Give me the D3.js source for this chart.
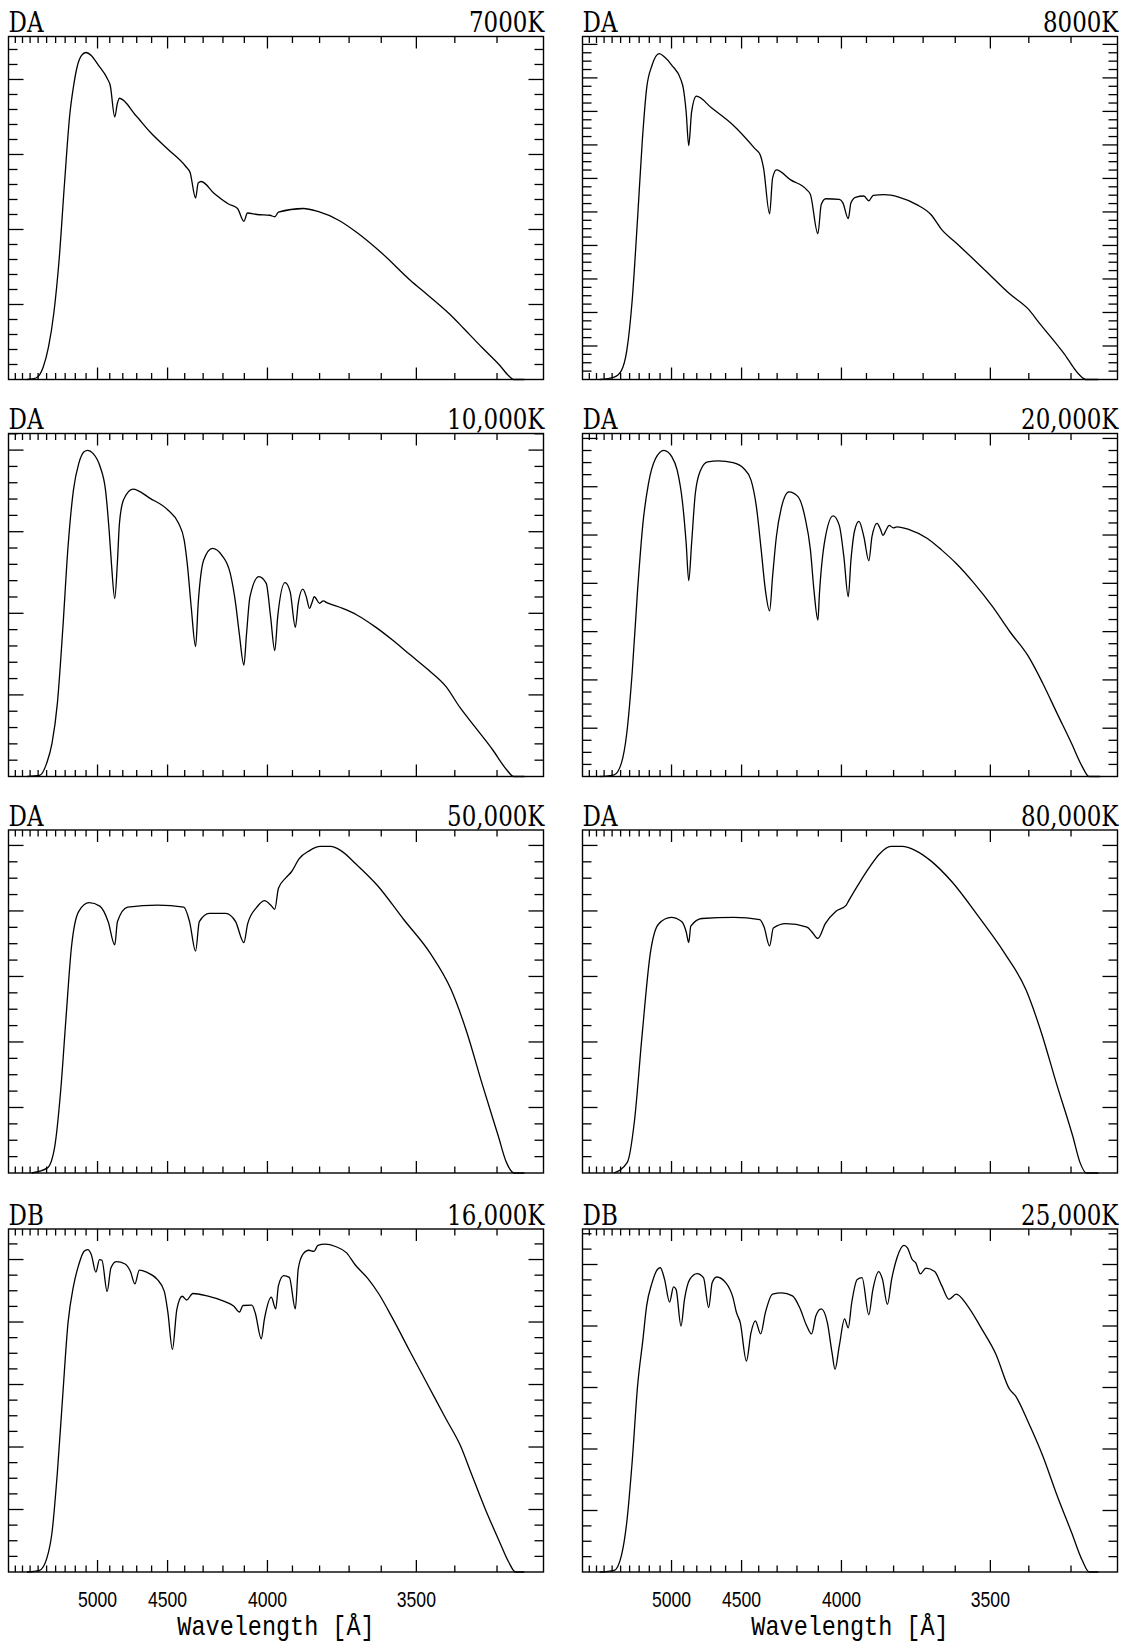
<!DOCTYPE html>
<html>
<head>
<meta charset="utf-8">
<script src="https://cdn.jsdelivr.net/npm/d3@7"></script>
<style>
  html, body { margin: 0; padding: 0; background: #fff; }
  svg { display: block; }
</style>
</head>
<body>
<svg id="chart" width="1125" height="1643"></svg>
<script>
// ---- Panel metadata ----
const spectralTypes = ["DA", "DA", "DA", "DA", "DA", "DA", "DB", "DB"];
const temperatures  = ["7000K", "8000K", "10,000K", "20,000K", "50,000K", "80,000K", "16,000K", "25,000K"];

// Wavelength axis (Angstrom); the dispersion axis is non-linear (~ lambda^-2.175)
const waveDomain = [6000, 3200];
const waveLabels = [5000, 4500, 4000, 3500];
const waveMinorStep = 100;

// Flux axis per panel: top of axis, major tick step, minor ticks per major
const fluxTop   = [4.573, 1, 1, 1, 1, 1, 1, 1];
const fluxMajor = [1, 0.0977, 0.2379, 0.1408, 0.191, 0.191, 0.1822, 0.1793];
const fluxMinorPerMajor = [5, 4, 5, 4, 4, 4, 4, 4];

// ---- Spectra: [wavelength (A), flux] ----
const specDA7000 = [[5740,0],[5626,0.02],[5541,0.16],[5479,0.43],[5420,0.88],[5363,1.59],[5307,2.61],[5253,3.54],[5218,3.90],[5184,4.16],[5141,4.32],[5101,4.36],[5054,4.32],[4993,4.19],[4919,4.01],[4896,3.92],[4861,3.50],[4841,3.68],[4825,3.75],[4706,3.52],[4610,3.30],[4498,3.07],[4394,2.84],[4370,2.76],[4340,2.42],[4326,2.62],[4310,2.64],[4243,2.48],[4173,2.34],[4131,2.28],[4102,2.11],[4086,2.22],[4044,2.20],[3990,2.19],[3970,2.17],[3955,2.23],[3859,2.28],[3806,2.24],[3733,2.12],[3675,1.96],[3597,1.68],[3516,1.32],[3468,1.12],[3403,0.82],[3378,0.68],[3335,0.43],[3294,0.19],[3274,0.05],[3263,0],[3240,0]];

const specDA8000 = [[5757,0],[5575,0.007],[5491,0.026],[5431,0.084],[5373,0.229],[5316,0.471],[5269,0.693],[5226,0.848],[5174,0.916],[5108,0.95],[5060,0.94],[4997,0.916],[4924,0.875],[4903,0.848],[4881,0.78],[4861,0.682],[4839,0.78],[4803,0.826],[4695,0.792],[4553,0.742],[4423,0.674],[4392,0.655],[4373,0.616],[4340,0.483],[4324,0.587],[4304,0.611],[4231,0.582],[4153,0.553],[4136,0.539],[4102,0.425],[4087,0.51],[4067,0.527],[4009,0.525],[3994,0.515],[3972,0.469],[3961,0.515],[3943,0.531],[3910,0.535],[3891,0.521],[3874,0.537],[3834,0.539],[3782,0.532],[3721,0.51],[3675,0.481],[3641,0.437],[3597,0.398],[3514,0.318],[3448,0.249],[3401,0.205],[3375,0.166],[3315,0.074],[3283,0.016],[3267,0],[3240,0]];

const specDA10000 = [[5740,0],[5583,0.003],[5499,0.039],[5439,0.097],[5381,0.214],[5325,0.427],[5271,0.67],[5218,0.835],[5167,0.913],[5118,0.947],[5086,0.951],[5039,0.942],[4978,0.903],[4934,0.835],[4905,0.718],[4885,0.612],[4861,0.519],[4841,0.621],[4825,0.738],[4795,0.806],[4727,0.838],[4610,0.811],[4498,0.777],[4435,0.738],[4403,0.689],[4384,0.612],[4364,0.495],[4340,0.379],[4326,0.505],[4297,0.631],[4252,0.665],[4207,0.646],[4165,0.592],[4140,0.505],[4123,0.417],[4102,0.325],[4090,0.417],[4075,0.524],[4036,0.583],[4005,0.563],[3987,0.466],[3970,0.367],[3958,0.466],[3929,0.565],[3909,0.539],[3889,0.435],[3878,0.505],[3861,0.546],[3848,0.524],[3836,0.49],[3828,0.505],[3819,0.524],[3800,0.505],[3787,0.512],[3775,0.507],[3721,0.49],[3675,0.471],[3619,0.437],[3567,0.398],[3516,0.354],[3468,0.311],[3422,0.262],[3386,0.199],[3352,0.146],[3310,0.078],[3278,0.019],[3263,0],[3240,0]];

const specDA20000 = [[5757,0],[5575,0.005],[5491,0.039],[5431,0.126],[5373,0.301],[5316,0.544],[5262,0.738],[5208,0.854],[5141,0.927],[5066,0.951],[4997,0.932],[4953,0.893],[4909,0.796],[4881,0.68],[4861,0.571],[4839,0.68],[4811,0.825],[4772,0.893],[4721,0.917],[4647,0.92],[4553,0.915],[4487,0.898],[4444,0.864],[4413,0.786],[4386,0.66],[4363,0.544],[4340,0.483],[4324,0.583],[4304,0.699],[4277,0.786],[4240,0.83],[4195,0.816],[4162,0.757],[4136,0.66],[4120,0.544],[4102,0.456],[4095,0.534],[4071,0.689],[4035,0.76],[4009,0.732],[3990,0.641],[3972,0.524],[3961,0.631],[3946,0.718],[3929,0.744],[3910,0.699],[3891,0.629],[3879,0.699],[3860,0.738],[3847,0.72],[3838,0.703],[3827,0.718],[3816,0.732],[3801,0.725],[3788,0.728],[3746,0.72],[3686,0.694],[3641,0.66],[3597,0.621],[3545,0.563],[3494,0.495],[3448,0.422],[3401,0.35],[3366,0.272],[3332,0.184],[3299,0.097],[3275,0.029],[3260,0],[3236,0]];

const specDA50000 = [[5680,0],[5490,0.015],[5410,0.076],[5345,0.244],[5290,0.458],[5238,0.656],[5167,0.763],[5072,0.788],[4981,0.778],[4913,0.733],[4861,0.665],[4840,0.733],[4764,0.775],[4560,0.781],[4405,0.775],[4373,0.733],[4340,0.647],[4320,0.733],[4268,0.757],[4187,0.757],[4140,0.733],[4102,0.672],[4085,0.727],[4045,0.775],[4013,0.794],[3985,0.78],[3970,0.769],[3955,0.83],[3925,0.861],[3903,0.879],[3875,0.916],[3836,0.94],[3798,0.952],[3762,0.952],[3727,0.94],[3677,0.9],[3612,0.839],[3535,0.739],[3463,0.641],[3409,0.534],[3371,0.412],[3334,0.259],[3297,0.107],[3279,0.031],[3262,0],[3240,0]];

const specDA80000 = [[5580,0],[5425,0.031],[5348,0.153],[5272,0.397],[5190,0.641],[5113,0.726],[5003,0.745],[4917,0.733],[4880,0.702],[4861,0.672],[4845,0.72],[4762,0.742],[4548,0.745],[4394,0.739],[4370,0.717],[4340,0.662],[4320,0.714],[4256,0.727],[4152,0.717],[4128,0.702],[4102,0.684],[4069,0.727],[4023,0.763],[3980,0.781],[3970,0.794],[3925,0.849],[3889,0.891],[3850,0.931],[3810,0.952],[3770,0.952],[3725,0.94],[3675,0.91],[3610,0.849],[3533,0.748],[3462,0.641],[3407,0.534],[3370,0.412],[3333,0.259],[3296,0.107],[3280,0.031],[3266,0],[3240,0]];

const specDB16000 = [[5740,0],[5583,0.005],[5499,0.039],[5439,0.116],[5381,0.291],[5325,0.514],[5271,0.727],[5218,0.833],[5167,0.896],[5118,0.935],[5086,0.94],[5054,0.926],[5014,0.874],[4984,0.911],[4963,0.909],[4921,0.818],[4891,0.886],[4850,0.905],[4783,0.898],[4744,0.876],[4713,0.84],[4682,0.88],[4633,0.874],[4564,0.853],[4520,0.818],[4498,0.756],[4471,0.649],[4445,0.766],[4414,0.804],[4389,0.793],[4355,0.812],[4279,0.805],[4190,0.788],[4148,0.775],[4122,0.758],[4106,0.777],[4067,0.778],[4052,0.756],[4026,0.68],[4013,0.736],[3984,0.801],[3966,0.767],[3955,0.835],[3934,0.864],[3912,0.859],[3889,0.767],[3878,0.884],[3859,0.928],[3839,0.938],[3820,0.935],[3806,0.952],[3781,0.956],[3745,0.949],[3709,0.931],[3680,0.895],[3641,0.856],[3608,0.812],[3567,0.74],[3516,0.64],[3468,0.543],[3422,0.446],[3386,0.368],[3361,0.291],[3327,0.184],[3294,0.087],[3274,0.029],[3259,0],[3240,0]];

const specDB25000 = [[5757,0],[5575,0.005],[5491,0.048],[5431,0.145],[5373,0.32],[5316,0.543],[5262,0.678],[5226,0.775],[5174,0.843],[5124,0.882],[5098,0.887],[5060,0.853],[5017,0.787],[4983,0.831],[4962,0.824],[4922,0.717],[4894,0.795],[4853,0.853],[4798,0.87],[4751,0.858],[4714,0.771],[4690,0.843],[4659,0.86],[4598,0.843],[4553,0.8],[4531,0.756],[4508,0.727],[4471,0.615],[4444,0.698],[4419,0.732],[4389,0.694],[4363,0.756],[4324,0.81],[4277,0.814],[4222,0.805],[4187,0.771],[4153,0.717],[4131,0.694],[4111,0.747],[4087,0.767],[4060,0.727],[4040,0.64],[4027,0.591],[4009,0.659],[3987,0.738],[3972,0.712],[3958,0.785],[3936,0.853],[3917,0.858],[3891,0.75],[3876,0.822],[3854,0.876],[3840,0.853],[3822,0.78],[3807,0.853],[3788,0.916],[3764,0.952],[3752,0.945],[3736,0.911],[3724,0.901],[3709,0.869],[3691,0.886],[3663,0.876],[3641,0.835],[3619,0.795],[3597,0.81],[3566,0.779],[3525,0.711],[3485,0.635],[3449,0.533],[3434,0.514],[3401,0.436],[3366,0.339],[3332,0.223],[3299,0.116],[3275,0.034],[3260,0],[3240,0]];

const spectra = [specDA7000, specDA8000, specDA10000, specDA20000, specDA50000, specDA80000, specDB16000, specDB25000];

// ---- Layout ----
const colX = [8.5, 582.5];
const rowY = [36.5, 433.5, 830, 1229];
const plotW = 535, plotH = 343;
const ink = "#000";
const lw = 1.3;
const labelFont = "'DejaVu Serif', 'Liberation Serif', serif";

const svg = d3.select("#chart");

spectra.forEach((data, i) => {
  const col = i % 2, row = Math.floor(i / 2);
  const g = svg.append("g").attr("transform", `translate(${colX[col]},${rowY[row]})`);

  const x = d3.scalePow().exponent(-2.175).domain(waveDomain).range([0, plotW]);
  const y = d3.scaleLinear().domain([0, fluxTop[i]]).range([plotH, 0]);

  // wavelength ticks on top and bottom edges, pointing inward
  const minorWaves = d3.range(waveDomain[0] - waveMinorStep, waveDomain[1], -waveMinorStep);
  minorWaves.forEach(w => {
    const isMajor = waveLabels.includes(w);
    const len = isMajor ? 12 : 6.5;
    const px = x(w);
    g.append("line").attr("x1", px).attr("x2", px).attr("y1", 0).attr("y2", len)
      .attr("stroke", ink).attr("stroke-width", lw);
    g.append("line").attr("x1", px).attr("x2", px).attr("y1", plotH).attr("y2", plotH - len)
      .attr("stroke", ink).attr("stroke-width", lw);
  });

  // flux ticks on left and right edges, pointing inward
  const minorStep = fluxMajor[i] / fluxMinorPerMajor[i];
  for (let k = 1; k * minorStep < fluxTop[i] - 1e-9; k++) {
    const isMajor = k % fluxMinorPerMajor[i] === 0;
    const len = isMajor ? 15 : 9;
    const py = y(k * minorStep);
    g.append("line").attr("x1", 0).attr("x2", len).attr("y1", py).attr("y2", py)
      .attr("stroke", ink).attr("stroke-width", lw);
    g.append("line").attr("x1", plotW).attr("x2", plotW - len).attr("y1", py).attr("y2", py)
      .attr("stroke", ink).attr("stroke-width", lw);
  }

  // spectrum
  const line = d3.line()
    .x(d => x(d[0]))
    .y(d => y(d[1]))
    .curve(d3.curveMonotoneX);
  g.append("path").datum(data)
    .attr("d", line)
    .attr("fill", "none")
    .attr("stroke", ink)
    .attr("stroke-width", lw)
    .attr("stroke-linejoin", "round");

  // frame
  g.append("rect").attr("x", 0).attr("y", 0).attr("width", plotW).attr("height", plotH)
    .attr("fill", "none").attr("stroke", ink).attr("stroke-width", 1.4);

  // panel labels (spectral class left, effective temperature right)
  g.append("g").attr("transform", `translate(0,-4.5) scale(0.85,1)`)
    .append("text")
    .attr("font-family", labelFont)
    .attr("font-size", 27).attr("fill", ink)
    .text(spectralTypes[i]);
  g.append("g").attr("transform", `translate(${plotW + 1},-4.5) scale(0.85,1)`)
    .append("text").attr("text-anchor", "end")
    .attr("font-family", labelFont)
    .attr("font-size", 27).attr("fill", ink)
    .text(temperatures[i]);

  // bottom row: wavelength labels and axis title
  if (row === 3) {
    waveLabels.forEach(w => {
      g.append("g").attr("transform", `translate(${x(w)},${plotH + 35}) scale(0.8,1)`)
        .append("text").attr("text-anchor", "middle")
        .attr("font-family", "'Liberation Sans', Arial, sans-serif")
        .attr("font-size", 22).attr("fill", ink)
        .text(w);
    });
    g.append("g").attr("transform", `translate(${plotW / 2},${plotH + 63}) scale(1,1.2)`)
      .append("text").attr("text-anchor", "middle")
      .attr("font-family", "'Liberation Mono', 'DejaVu Sans Mono', monospace")
      .attr("font-size", 23.5).attr("fill", ink)
      .text("Wavelength [Å]");
  }
});
</script>
</body>
</html>
